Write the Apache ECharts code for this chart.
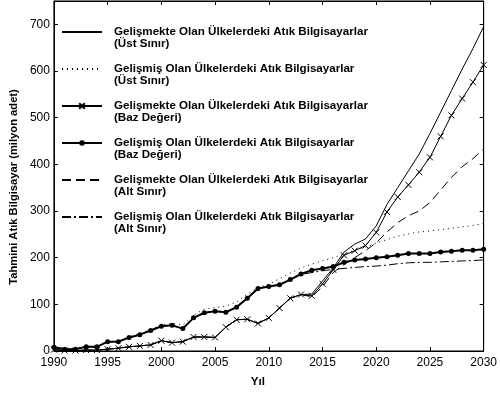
<!DOCTYPE html>
<html>
<head>
<meta charset="utf-8">
<script src="https://cdn.jsdelivr.net/npm/echarts@6/dist/echarts.min.js"></script>
<style>
html,body{margin:0;padding:0;background:#fff;}
#chart{width:500px;height:393px;}
</style>
</head>
<body>
<div id="chart"></div>
<script>
var years = [1990,1991,1992,1993,1994,1995,1996,1997,1998,1999,2000,2001,2002,2003,2004,2005,2006,2007,2008,2009,2010,2011,2012,2013,2014,2015,2016,2017,2018,2019,2020,2021,2022,2023,2024,2025,2026,2027,2028,2029,2030];

var seriesNames = [
  'Gelişmekte Olan Ülkelerdeki Atık Bilgisayarlar\n(Üst Sınır)',
  'Gelişmiş Olan Ülkelerdeki Atık Bilgisayarlar\n(Üst Sınır)',
  'Gelişmekte Olan Ülkelerdeki Atık Bilgisayarlar\n(Baz Değeri)',
  'Gelişmiş Olan Ülkelerdeki Atık Bilgisayarlar\n(Baz Değeri)',
  'Gelişmekte Olan Ülkelerdeki Atık Bilgisayarlar\n(Alt Sınır)',
  'Gelişmiş Olan Ülkelerdeki Atık Bilgisayarlar\n(Alt Sınır)'
];

// Gelişmekte - Üst Sınır
var developingUpper = [3,1,1,2,2,4,6,9,11,13,22,18,20,30,30,29,51,67,68,59,71,92,113,121,122,150,178,212,229,240,268,314,350,386,422,466,512,558,604,648,695];
// Gelişmiş - Üst Sınır
var developedUpper = [9,5,5,10,10,21,21,30,37,46,56,59,55,77,90,93,96,105,122,136,143,155,167,178,186,193,200,208,216,223,231,239,246,251,255,257,260,263,266,269,273];
// Gelişmekte - Baz Değeri
var developingBase = [3,1,1,2,2,4,6,9,11,13,22,18,20,30,30,29,51,67,68,59,71,92,113,121,118,144,174,205,215,226,254,298,330,356,383,415,460,505,541,576,613];
// Gelişmiş - Baz Değeri
var developedBase = [8,4,4,9,9,20,20,29,35,44,53,55,48,71,82,85,83,94,113,134,138,142,153,165,173,177,181,190,195,197,200,202,205,209,209,209,212,214,216,216,218];
// Gelişmekte - Alt Sınır
var developingLower = [3,1,1,2,2,4,6,9,11,13,22,18,20,30,30,29,51,67,68,59,71,92,113,121,116,138,168,185,200,215,232,255,275,290,300,318,345,372,395,412,433];
// Gelişmiş - Alt Sınır
var developedLower = [8,4,4,9,9,20,20,29,35,44,53,55,48,71,82,85,83,94,113,134,138,142,153,164,168,172,175,177,179,181,182,184,187,189,190,190,191,192,193,194,195];

var xTicks = {min: 1990, max: 2030, interval: 5};
var yTicks = {min: 0, max: 750, interval: 100};

function pairs(vals){ return years.map(function(y,i){ return [y, vals[i]]; }); }

var FONT = '"Liberation Sans", Arial, sans-serif';
var chart = echarts.init(document.getElementById('chart'), null, {renderer:'canvas'});

var tickStyle = {show:true, inside:true, length:4, lineStyle:{color:'#000', width:1}};
var lineAx = {show:true, onZero:false, lineStyle:{color:'#000', width:1}};
var hiddenSym = {opacity: 0};

var option = {
  animation: false,
  backgroundColor: '#fff',
  color: ['#000'],
  grid: {left: 46, right: 13, top: 1, bottom: 36, containLabel: false, show: true, borderColor: '#000', borderWidth: 1, backgroundColor: 'transparent'},
  legend: {
    orient: 'vertical',
    left: 61, top: 14, padding: 0,
    itemWidth: 40, itemHeight: 7, itemGap: 1,
    formatter: function(n){ return '\n' + n; },
    textStyle: {fontFamily: FONT, fontWeight: 'bold', fontSize: 11.6, lineHeight: 12, color: '#000', padding: [0,0,0,7]},
    data: [
      {name: seriesNames[0], itemStyle: hiddenSym},
      {name: seriesNames[1], itemStyle: hiddenSym},
      {name: seriesNames[2]},
      {name: seriesNames[3]},
      {name: seriesNames[4], itemStyle: hiddenSym},
      {name: seriesNames[5], itemStyle: hiddenSym}
    ]
  },
  xAxis: [{
    type: 'value', min: xTicks.min, max: xTicks.max, interval: xTicks.interval,
    name: 'Yıl', nameLocation: 'middle', nameGap: 25,
    nameTextStyle: {fontFamily: FONT, fontWeight: 'bold', fontSize: 11.6, color: '#000', padding: [0,22,0,0]},
    axisLine: lineAx, axisTick: tickStyle, splitLine: {show:false},
    axisLabel: {fontFamily: FONT, fontSize: 12, color: '#000', margin: 6, formatter: function(v){return String(v);}}
  },{
    type: 'value', position: 'top', min: xTicks.min, max: xTicks.max, interval: xTicks.interval,
    axisLine: lineAx, axisTick: tickStyle, splitLine: {show:false}, axisLabel: {show:false}
  }],
  yAxis: [{
    type: 'value', min: yTicks.min, max: yTicks.max, interval: yTicks.interval,
    name: 'Tahmini Atık Bilgisayar (milyon adet)', nameLocation: 'middle', nameGap: 30,
    nameTextStyle: {fontFamily: FONT, fontWeight: 'bold', fontSize: 11.2, color: '#000', padding: [0,22,0,0]},
    axisLine: lineAx, axisTick: tickStyle, splitLine: {show:false},
    axisLabel: {fontFamily: FONT, fontSize: 12, color: '#000', margin: 4, showMaxLabel: false}
  },{
    type: 'value', position: 'right', min: yTicks.min, max: yTicks.max, interval: yTicks.interval,
    axisLine: lineAx, axisTick: tickStyle, splitLine: {show:false}, axisLabel: {show:false}
  }],
  series: [
    {name: seriesNames[0], type:'line', data: pairs(developingUpper), symbol:'none',
     lineStyle:{color:'#000', width:1, type:'solid'}, itemStyle:{color:'#000'}},
    {name: seriesNames[1], type:'line', data: pairs(developedUpper), symbol:'none',
     lineStyle:{color:'#000', width:1, type:[1,4]}, itemStyle:{color:'#000'}},
    {name: seriesNames[2], type:'line', data: pairs(developingBase), showSymbol:true,
     symbol:'path://M0,0L10,10M0,10L10,0', symbolSize:6,
     lineStyle:{color:'#000', width:1, type:'solid'}, itemStyle:{color:'rgba(0,0,0,0)', borderColor:'#000', borderWidth:1}},
    {name: seriesNames[3], type:'line', data: pairs(developedBase), showSymbol:true,
     symbol:'circle', symbolSize:5,
     lineStyle:{color:'#000', width:2, type:'solid'}, itemStyle:{color:'#000'}},
    {name: seriesNames[4], type:'line', data: pairs(developingLower), symbol:'none',
     lineStyle:{color:'#000', width:1, type:[9,5]}, itemStyle:{color:'#000'}},
    {name: seriesNames[5], type:'line', data: pairs(developedLower), symbol:'none',
     lineStyle:{color:'#000', width:1, type:[9,3,2,3]}, itemStyle:{color:'#000'}}
  ]
};
chart.setOption(option);
</script>
</body>
</html>
